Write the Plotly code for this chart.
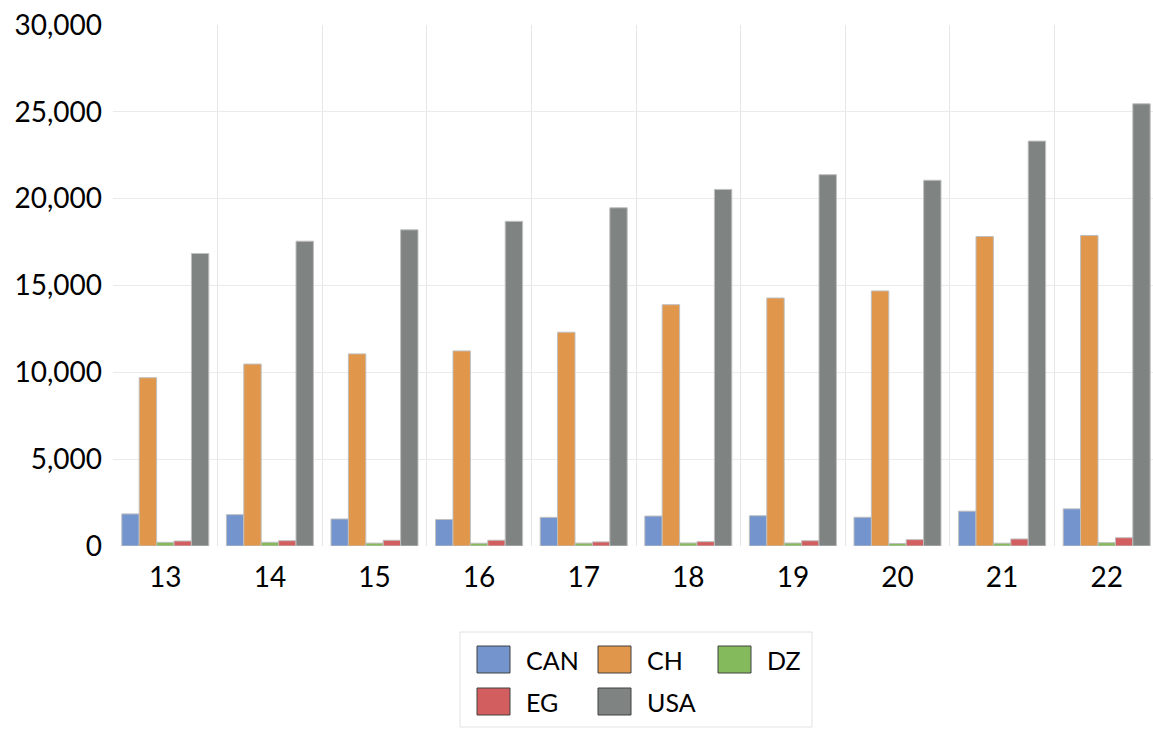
import plotly.graph_objects as go

years = ["13", "14", "15", "16", "17", "18", "19", "20", "21", "22"]
series_names = ["CAN", "CH", "DZ", "EG", "USA"]
can = [1847, 1805, 1556, 1528, 1649, 1725, 1743, 1655, 2007, 2140]
ch = [9690, 10476, 11062, 11233, 12310, 13895, 14280, 14688, 17820, 17882]
dz = [210, 214, 166, 160, 167, 175, 172, 145, 163, 192]
eg = [288, 306, 330, 332, 236, 250, 303, 365, 404, 477]
usa = [16843, 17551, 18206, 18695, 19477, 20533, 21381, 21060, 23315, 25463]
colors = ["#7394CC", "#E0964B", "#84B95C", "#D35E5F", "#7F8483"]
y_ticks = [0, 5000, 10000, 15000, 20000, 25000, 30000]

FONT = "Lato"
W, H = 1153, 731
ML, MR, MT, MB = 113, 0, 25, 185
PW = W - ML - MR
PH = H - MT - MB

fig = go.Figure()
for name, vals, col in zip(series_names, [can, ch, dz, eg, usa], colors):
    fig.add_trace(go.Bar(
        x=years, y=vals, name=name,
        marker=dict(color=col, line=dict(color="#BFBFBF", width=1)),
        showlegend=False,
    ))

cat_px = 104.6
span = PW / cat_px

fig.update_layout(
    width=W, height=H,
    margin=dict(l=ML, r=MR, t=MT, b=MB, pad=0),
    paper_bgcolor="white", plot_bgcolor="white",
    barmode="group", bargap=0.168, bargroupgap=0,
    font=dict(family=FONT, size=28, color="#000000"),
    xaxis=dict(
        type="category", range=[-0.5, -0.5 + span],
        tickson="boundaries", showgrid=True, gridcolor="#E6E6E6", gridwidth=1,
        ticks="", showline=False, zeroline=False,
        tickfont=dict(family=FONT, size=28, color="#000000"),
        ticklabelstandoff=12,
    ),
    yaxis=dict(
        range=[0, 30000], tickvals=y_ticks, tickformat=",",
        showgrid=True, gridcolor="#EBEBEB", gridwidth=1,
        zeroline=False, showline=False, ticks="",
        tickfont=dict(family=FONT, size=28, color="#000000"),
        ticklabelstandoff=10,
    ),
)

# Manual legend (large swatches like the reference)
def px_x(px):
    return (px - ML) / PW

def px_y(py):
    return (H - MB - py) / PH

fig.add_shape(type="rect", xref="paper", yref="paper",
              x0=px_x(460), x1=px_x(812), y0=px_y(727), y1=px_y(632),
              line=dict(color="#E2E2E2", width=1), fillcolor="white", layer="above")
col_x = [477, 598, 718]
row_y = [646, 688]
for i, (name, col) in enumerate(zip(series_names, colors)):
    r, c = divmod(i, 3)
    x0 = col_x[c]
    y0 = row_y[r]
    fig.add_shape(type="rect", xref="paper", yref="paper",
                  x0=px_x(x0), x1=px_x(x0 + 33), y0=px_y(y0 + 27), y1=px_y(y0),
                  line=dict(color="#404040", width=1), fillcolor=col, layer="above")
    fig.add_annotation(xref="paper", yref="paper", x=px_x(x0 + 47), y=px_y(y0 + 14),
                       text=name, showarrow=False, xanchor="left", yanchor="middle",
                       font=dict(family=FONT, size=25, color="#000000"))

fig.write_html("out.html")
